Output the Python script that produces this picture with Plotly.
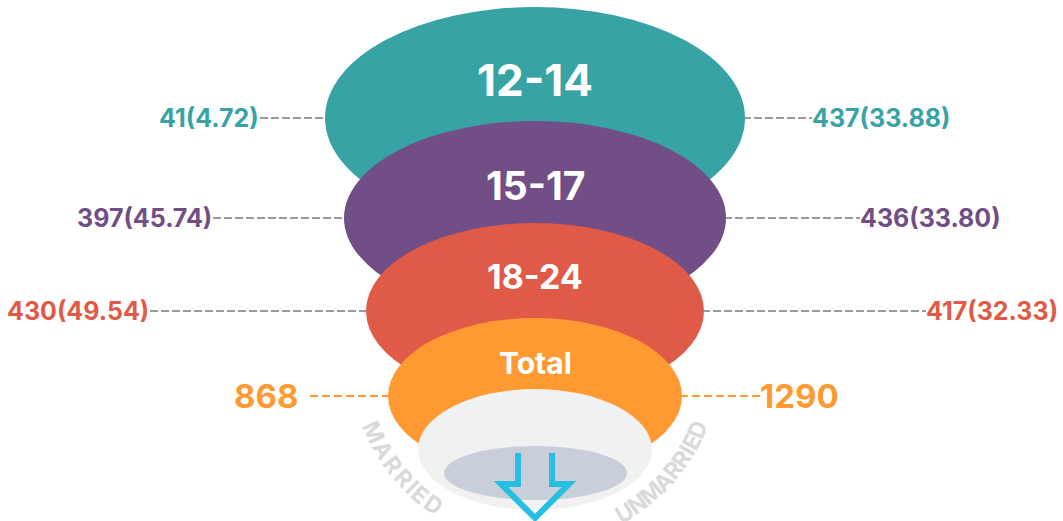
import math
import plotly.graph_objects as go

# ---------------- data ----------------
groups = ["12-14", "15-17", "18-24", "Total"]
married = [41, 397, 430, 868]
married_pct = [4.72, 45.74, 49.54, None]
unmarried = [437, 436, 417, 1290]
unmarried_pct = [33.88, 33.80, 32.33, None]
side_labels = ["MARRIED", "UNMARRIED"]

# ---------------- styling / geometry (pixel space) ----------------
colors = ["#38A3A5", "#724E87", "#E05A48", "#FF9A33"]
W, H = 1063, 521
CX = 535
cy = [118, 218, 311, 396]
rx = [210, 191, 169, 147]
ry = [111, 97, 88, 78]
title_y = [80, 185, 276, 363]
title_size = [44, 39, 34, 30]
left_text_end = [258, 211, 148, 297]
right_text_start = [814, 862, 928, 762]
left_line_end = [260, 213, 150, 310]
right_line_end = [812, 860, 926, 760]

fig = go.Figure()
shapes = []
annotations = []

FONT = "Inter"

# dashed connector lines (below the ellipses)
for i in range(len(groups)):
    is_total = groups[i] == "Total"
    lc = colors[i] if is_total else "#9B9B9B"
    dash = "8px,4px" if is_total else "8px,3px"
    shapes.append(dict(type="line", xref="x", yref="y", layer="above",
                       x0=left_line_end[i], x1=CX - rx[i] + 2, y0=cy[i], y1=cy[i],
                       line=dict(color=lc, width=2, dash=dash)))
    shapes.append(dict(type="line", xref="x", yref="y", layer="above",
                       x0=CX + rx[i] - 2, x1=right_line_end[i], y0=cy[i], y1=cy[i],
                       line=dict(color=lc, width=2, dash=dash)))

# ellipses
for i in range(len(groups)):
    shapes.append(dict(type="circle", xref="x", yref="y", layer="above",
                       x0=CX - rx[i], x1=CX + rx[i], y0=cy[i] - ry[i], y1=cy[i] + ry[i],
                       fillcolor=colors[i], line=dict(width=0)))

# bottom plate
shapes.append(dict(type="circle", xref="x", yref="y", layer="above",
                   x0=418, x1=652, y0=389, y1=510,
                   fillcolor="#F0F1F1", line=dict(width=0)))
shapes.append(dict(type="circle", xref="x", yref="y", layer="above",
                   x0=444, x1=627, y0=446, y1=500,
                   fillcolor="#C8CFD8", line=dict(width=0)))
# arrow
shapes.append(dict(type="path", xref="x", yref="y", layer="above",
                   path="M 518 453 L 518 484 L 501 484 L 535 518 L 569 484 L 552 484 L 552 453",
                   line=dict(color="#27BFE1", width=6), fillcolor="rgba(0,0,0,0)"))

# titles inside ellipses
for i, g in enumerate(groups):
    annotations.append(dict(x=CX, y=title_y[i], xref="x", yref="y", text=g,
                            showarrow=False, xanchor="center", yanchor="middle",
                            font=dict(family=FONT, size=title_size[i], color="white", weight="bold")))

# side value labels
for i in range(len(groups)):
    if married_pct[i] is None:
        lt = f"{married[i]}"
        rt = f"{unmarried[i]}"
        fs = 33
    else:
        lt = f"{married[i]}({married_pct[i]:.2f})"
        rt = f"{unmarried[i]}({unmarried_pct[i]:.2f})"
        fs = 25
    annotations.append(dict(x=left_text_end[i], y=cy[i], xref="x", yref="y", text=lt,
                            showarrow=False, xanchor="right", yanchor="middle", xshift=3,
                            font=dict(family=FONT, size=fs, color=colors[i], weight="bold")))
    annotations.append(dict(x=right_text_start[i], y=cy[i], xref="x", yref="y", text=rt,
                            showarrow=False, xanchor="left", yanchor="middle", xshift=-4,
                            font=dict(family=FONT, size=fs, color=colors[i], weight="bold")))

# curved side labels
char_w = {"M": 0.86, "A": 0.72, "R": 0.66, "I": 0.29, "E": 0.60, "D": 0.71, "U": 0.70, "N": 0.74}
ARC_CY, ARC_R = 360, 177
arc_fs = 23
def arc_text(word, theta_start, theta_end):
    ws = [char_w.get(ch, 0.65) for ch in word]
    centers = []
    acc = 0.0
    for k, w in enumerate(ws):
        centers.append(acc + w / 2)
        acc += w
    c0, c1 = centers[0], centers[-1]
    for k, ch in enumerate(word):
        t = (centers[k] - c0) / (c1 - c0)
        th = math.radians(theta_start + t * (theta_end - theta_start))
        x = CX + ARC_R * math.cos(th)
        y = ARC_CY + ARC_R * math.sin(th)
        ang = math.degrees(math.atan2(-math.cos(th), math.sin(th)))
        annotations.append(dict(x=x, y=y, xref="x", yref="y", text=ch, showarrow=False,
                                xanchor="center", yanchor="middle", textangle=ang,
                                font=dict(family=FONT, size=arc_fs, color="#D9D9D9", weight="bold")))

arc_text(side_labels[0], 156, 125)
arc_text(side_labels[1], 59.5, 23)

fig.update_layout(
    width=W, height=H, autosize=False,
    margin=dict(l=0, r=0, t=0, b=0),
    paper_bgcolor="white", plot_bgcolor="white",
    xaxis=dict(range=[0, W], visible=False, fixedrange=True),
    yaxis=dict(range=[H, 0], visible=False, fixedrange=True),
    shapes=shapes, annotations=annotations, showlegend=False,
)
fig.write_html("out.html", config={"displayModeBar": False},
               post_script="document.body.style.margin='0';document.body.style.overflow='hidden';")
